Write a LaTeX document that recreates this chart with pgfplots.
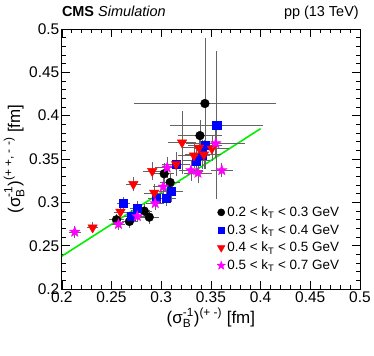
\documentclass[border=0pt]{standalone}
\usepackage{fontspec}
\setmainfont{Liberation Sans}
\usepackage{amsmath}
\usepackage{pgfplots}
\pgfplotsset{compat=1.18}

% filled five-point star (ROOT marker 29)
\pgfdeclareplotmark{fstar}{%
  \pgfpathmoveto{\pgfpointpolar{90}{\pgfplotmarksize}}%
  \pgfpathlineto{\pgfpointpolar{126}{0.42\pgfplotmarksize}}%
  \pgfpathlineto{\pgfpointpolar{162}{\pgfplotmarksize}}%
  \pgfpathlineto{\pgfpointpolar{198}{0.42\pgfplotmarksize}}%
  \pgfpathlineto{\pgfpointpolar{234}{\pgfplotmarksize}}%
  \pgfpathlineto{\pgfpointpolar{270}{0.42\pgfplotmarksize}}%
  \pgfpathlineto{\pgfpointpolar{306}{\pgfplotmarksize}}%
  \pgfpathlineto{\pgfpointpolar{342}{0.42\pgfplotmarksize}}%
  \pgfpathlineto{\pgfpointpolar{18}{\pgfplotmarksize}}%
  \pgfpathlineto{\pgfpointpolar{54}{0.42\pgfplotmarksize}}%
  \pgfpathclose\pgfusepathqfillstroke}

\definecolor{errgray}{RGB}{100,100,100}
\definecolor{fitgreen}{RGB}{0,240,0}
\definecolor{cblue}{RGB}{0,0,255}
\definecolor{cred}{RGB}{255,0,0}
\definecolor{cmag}{RGB}{255,0,255}

\begin{document}
\begin{tikzpicture}
\begin{axis}[
    name=ax,
    scale only axis,
    width=299pt, height=261pt,
    xmin=0.2, xmax=0.5, ymin=0.2, ymax=0.5,
    xtick={0.2,0.25,...,0.51}, ytick={0.2,0.25,...,0.51},
    minor tick num=4,
    major tick length=8pt, minor tick length=4pt,
    tick align=inside,
    axis line style={line width=0.8pt},
    every tick/.style={line width=0.6pt, black},
    /pgf/number format/assume math mode=true,
    /pgf/number format/fixed, /pgf/number format/precision=2,
    ticklabel style={font=\fontsize{15.5}{16}\selectfont},
    xticklabel style={yshift=1pt},
    yticklabel style={xshift=1pt},
    xlabel={$\text{(σ}_{\text{B}}^{\text{-1}}\text{)}^{\text{(+ -)}}$ [fm]},
    ylabel={$\text{(σ}_{\text{B}}^{\text{-1}}\text{)}^{\text{(+ +, - -)}}$ [fm]},
    label style={font=\fontsize{17}{18}\selectfont},
    xlabel style={yshift=2pt},
    ylabel style={yshift=-2pt},
    legend style={draw=none, fill=none, at={(rel axis cs:0.52,0.325)}, anchor=north west,
        font=\fontsize{13.5}{14}\selectfont, row sep=2.5pt, inner sep=0pt},
    legend cell align=left,
    error bars/error bar style={errgray, line width=0.7pt},
    error bars/error mark options={errgray, mark size=1.8pt, line width=0.7pt},
]

\addlegendimage{only marks, mark=*, mark size=3.6pt, black}
\addlegendentry{0.2 < k\textsubscript{T} < 0.3 GeV}
\addlegendimage{only marks, mark=square*, mark size=3.4pt, cblue}
\addlegendentry{0.3 < k\textsubscript{T} < 0.4 GeV}
\addlegendimage{only marks, mark=triangle*, mark size=4.4pt, mark options={rotate=180}, cred}
\addlegendentry{0.4 < k\textsubscript{T} < 0.5 GeV}
\addlegendimage{only marks, mark=fstar, mark size=4.4pt, cmag}
\addlegendentry{0.5 < k\textsubscript{T} < 0.7 GeV}

\addplot[fitgreen, line width=1.6pt, forget plot] coordinates {(0.2,0.238) (0.4,0.385)};

\addplot[forget plot, only marks, mark=*, mark size=4.4pt, black,
    error bars/.cd, x dir=both, x explicit, y dir=both, y explicit]
  table[x=x, y=y, x error=ex, y error=ey] {
x     y     ex    ey
0.255 0.280 0.006 0.005
0.268 0.278 0.006 0.005
0.283 0.290 0.006 0.006
0.288 0.283 0.008 0.006
0.303 0.333 0.008 0.010
0.309 0.323 0.008 0.009
0.339 0.377 0.020 0.016
0.344 0.414 0.070 0.074
};

\addplot[forget plot, only marks, mark=square*, mark size=4.2pt, cblue,
    error bars/.cd, x dir=both, x explicit, y dir=both, y explicit]
  table[x=x, y=y, x error=ex, y error=ey] {
x     y     ex    ey
0.262 0.299 0.005 0.005
0.270 0.284 0.006 0.005
0.276 0.293 0.006 0.006
0.295 0.305 0.006 0.006
0.305 0.305 0.008 0.007
0.310 0.313 0.010 0.010
0.315 0.344 0.012 0.012
0.335 0.348 0.012 0.012
0.341 0.355 0.015 0.015
0.344 0.366 0.015 0.015
0.356 0.389 0.045 0.083
};

\addplot[forget plot, only marks, mark=triangle*, mark size=5.5pt, mark options={rotate=180}, cred,
    error bars/.cd, x dir=both, x explicit, y dir=both, y explicit]
  table[x=x, y=y, x error=ex, y error=ey] {
x     y     ex    ey
0.231 0.271 0.004 0.004
0.259 0.289 0.005 0.005
0.272 0.321 0.006 0.006
0.291 0.336 0.008 0.008
0.293 0.311 0.008 0.008
0.315 0.344 0.010 0.010
0.321 0.369 0.012 0.034
0.333 0.354 0.014 0.012
0.338 0.363 0.015 0.015
0.343 0.355 0.015 0.015
0.351 0.362 0.015 0.012
};

\addplot[forget plot, only marks, mark=fstar, mark size=5.5pt, cmag,
    error bars/.cd, x dir=both, x explicit, y dir=both, y explicit]
  table[x=x, y=y, x error=ex, y error=ey] {
x     y     ex    ey
0.213 0.266 0.004 0.005
0.257 0.275 0.005 0.005
0.276 0.284 0.006 0.005
0.294 0.299 0.007 0.006
0.302 0.318 0.008 0.008
0.306 0.340 0.010 0.010
0.330 0.337 0.010 0.010
0.337 0.334 0.012 0.010
0.355 0.368 0.028 0.015
0.361 0.337 0.009 0.006
};

\end{axis}
\node[anchor=base west, inner sep=0pt, font=\fontsize{14.5}{15}\selectfont]
  at ([yshift=12pt]ax.north west) {\textbf{CMS} \textit{Simulation}};
\node[anchor=base east, inner sep=0pt, font=\fontsize{14.5}{15}\selectfont]
  at ([yshift=12pt,xshift=-1pt]ax.north east) {pp (13 TeV)};
\path ([xshift=-62pt,yshift=-67pt]ax.south west) rectangle ([xshift=13pt,yshift=29pt]ax.north east);
\end{tikzpicture}
\end{document}
